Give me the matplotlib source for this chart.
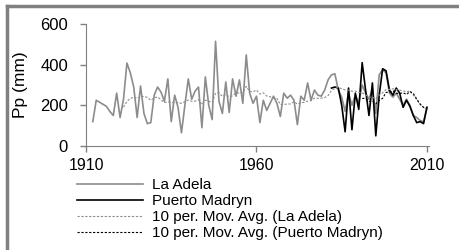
import numpy as np
import pandas as pd
import matplotlib
matplotlib.use("Agg")
import matplotlib.pyplot as plt
from matplotlib.lines import Line2D

plt.rcParams['font.family'] = ['Liberation Sans', 'DejaVu Sans']

# donnees
annees_adela = list(range(1912, 2011))
pp_adela = [120, 225, 215, 205, 195, 170, 150, 260, 140, 230,
            408, 360, 290, 140, 295, 160, 110, 115, 250, 290,
            265, 220, 330, 120, 250, 190, 65, 200, 330, 230,
            270, 290, 90, 340, 200, 130, 515, 220, 160, 315,
            165, 330, 245, 325, 210, 448, 260, 210, 245, 115,
            225, 175, 210, 245, 210, 145, 260, 235, 250, 225,
            105, 245, 225, 310, 225, 275, 250, 245, 275, 325,
            350, 355, 275, 240, 170, 260, 200, 250, 210, 300,
            260, 230, 280, 160, 350, 375, 360, 260, 240, 260,
            230, 200, 230, 200, 150, 140, 125, 120, 190]

annees_madryn = list(range(1982, 2011))
pp_madryn = [285, 290, 285, 200, 70, 285, 80, 260, 180, 410,
             275, 150, 310, 50, 250, 380, 370, 275, 250, 285,
             260, 190, 225, 195, 150, 115, 120, 110, 190]

ticks_x = [1910, 1960, 2010]
ticks_y = [0, 200, 400, 600]

adela = pd.Series(pp_adela, index=annees_adela)
madryn = pd.Series(pp_madryn, index=annees_madryn)
# moyenne mobile sur 10 periodes (comme Excel)
mm_adela = adela.rolling(10).mean()
mm_madryn = madryn.rolling(10).mean()

fig = plt.figure(figsize=(4.6, 2.5), dpi=100)
ax = fig.add_axes([86/460, 1-146/250, (429-86)/460, (146-24)/250])

ax.plot(adela.index, adela.values, color='#8c8c8c', lw=1.2, label='La Adela')
ax.plot(madryn.index, madryn.values, color='black', lw=1.2, label='Puerto Madryn')
ax.plot(mm_adela.index, mm_adela.values, color='#8c8c8c', lw=0.8, ls=(0, (2, 1.5)),
        label='10 per. Mov. Avg. (La Adela)')
ax.plot(mm_madryn.index, mm_madryn.values, color='black', lw=0.8, ls=(0, (2, 1.5)),
        label='10 per. Mov. Avg. (Puerto Madryn)')

ax.set_xlim(1910, 2010.6)
ax.set_ylim(0, 600)
ax.set_xticks(ticks_x)
ax.set_yticks(ticks_y)
ax.tick_params(axis='y', labelsize=12, color='#808080', length=4, width=1, pad=9)
ax.tick_params(axis='x', labelsize=11.5, color='#808080', length=4, width=1, pad=5)
ax.set_ylabel('Pp (mm)', fontsize=12.5, labelpad=9)
for s in ['top', 'right']:
    ax.spines[s].set_visible(False)
for s in ['left', 'bottom']:
    ax.spines[s].set_color('#808080')

# legende sous le graphique
handles, labels = ax.get_legend_handles_labels()
fig.legend(handles, labels, loc='upper left', bbox_to_anchor=(77/460, 1-178/250),
           frameon=False, fontsize=11, handlelength=4.3, handletextpad=0.6,
           labelspacing=0.14, borderaxespad=0, borderpad=0)

# cadre gris en haut et a gauche
fig.add_artist(Line2D([7/460, 1], [1-6/250, 1-6/250], color='#808080', lw=2.5,
                      transform=fig.transFigure))
fig.add_artist(Line2D([7/460, 7/460], [0, 1-6/250], color='#808080', lw=2.5,
                      transform=fig.transFigure))

fig.savefig('out.png', dpi=100)
